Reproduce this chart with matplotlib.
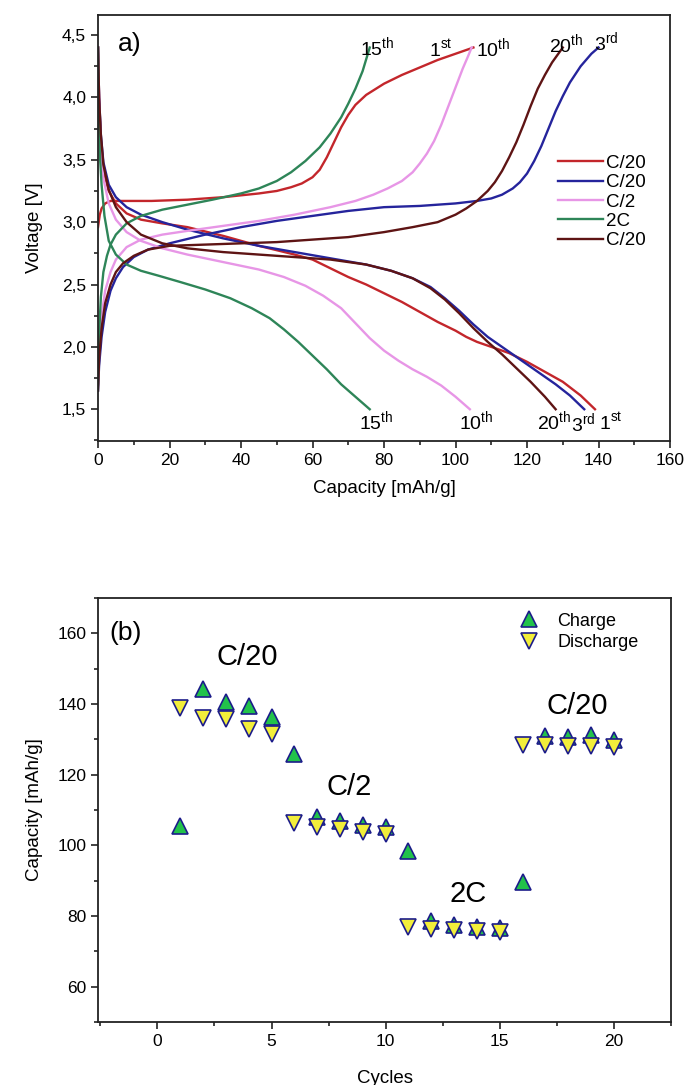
import matplotlib
matplotlib.use("Agg")
import matplotlib.pyplot as plt
import matplotlib.ticker as ticker

plt.rcParams["font.family"] = ["Liberation Sans", "DejaVu Sans"]
plt.rcParams["mathtext.fontset"] = "custom"
plt.rcParams["mathtext.rm"] = "Liberation Sans"

# --- a) charge / discharge profiles, capacity [mAh/g] vs voltage [V] ---
cap_1st_ch = [0, 0.5, 1, 2, 3.5, 8, 15, 25, 35, 45, 50, 54, 57, 60, 62, 64, 66, 68, 70, 72, 75, 80, 85, 90, 95, 100, 105]
v_1st_ch = [2.96, 3.06, 3.11, 3.15, 3.17, 3.17, 3.17, 3.18, 3.20, 3.23, 3.25, 3.28, 3.31, 3.36, 3.42, 3.52, 3.64, 3.76, 3.86, 3.94, 4.02, 4.11, 4.18, 4.24, 4.30, 4.35, 4.40]
cap_1st_dis = [0, 0.3, 0.8, 1.5, 3, 5, 8, 12, 18, 25, 35, 45, 55, 60, 65, 70, 75, 80, 85, 90, 95, 100, 103, 106, 110, 115, 120, 125, 130, 135, 139]
v_1st_dis = [4.40, 4.0, 3.65, 3.42, 3.25, 3.15, 3.07, 3.02, 2.99, 2.96, 2.89, 2.81, 2.74, 2.70, 2.63, 2.56, 2.50, 2.43, 2.36, 2.28, 2.20, 2.13, 2.08, 2.04, 2.0, 1.95, 1.88, 1.80, 1.72, 1.61, 1.50]

cap_3rd_ch = [0, 0.3, 1, 2, 3.5, 5, 7, 10, 14, 20, 30, 40, 50, 60, 70, 80, 90, 100, 106, 110, 113, 116, 118, 120, 122, 124, 126, 128, 130, 132, 135, 138, 140]
v_3rd_ch = [1.65, 1.85, 2.08, 2.28, 2.45, 2.55, 2.64, 2.72, 2.78, 2.83, 2.90, 2.96, 3.01, 3.05, 3.09, 3.12, 3.13, 3.15, 3.17, 3.19, 3.22, 3.27, 3.32, 3.39, 3.49, 3.61, 3.75, 3.89, 4.01, 4.12, 4.25, 4.35, 4.40]
cap_3rd_dis = [0, 0.3, 0.8, 1.5, 3, 5, 8, 12, 18, 25, 35, 45, 55, 65, 75, 82, 88, 93, 97, 101, 105, 109, 113, 118, 123, 128, 132, 136]
v_3rd_dis = [4.40, 4.0, 3.7, 3.48, 3.30, 3.20, 3.12, 3.06, 3.0, 2.94, 2.87, 2.81, 2.76, 2.71, 2.66, 2.61, 2.55, 2.48, 2.39, 2.29, 2.18, 2.08, 2.0, 1.90, 1.80, 1.70, 1.61, 1.50]

cap_10th_ch = [0, 0.3, 1, 2, 3.5, 5, 8, 12, 18, 25, 35, 45, 55, 65, 72, 77, 81, 85, 88, 90, 92, 94, 96, 98, 100, 102, 103.5, 104.5]
v_10th_ch = [1.7, 1.95, 2.25, 2.45, 2.6, 2.7, 2.8, 2.86, 2.9, 2.93, 2.97, 3.01, 3.06, 3.12, 3.17, 3.22, 3.27, 3.33, 3.40, 3.47, 3.55, 3.65, 3.78, 3.93, 4.08, 4.23, 4.33, 4.40]
cap_10th_dis = [0, 0.3, 0.8, 1.5, 3, 5, 8, 12, 18, 25, 35, 45, 52, 58, 63, 68, 72, 76, 80, 84, 88, 92, 96, 100, 104]
v_10th_dis = [4.40, 3.95, 3.6, 3.35, 3.15, 3.02, 2.92, 2.85, 2.79, 2.74, 2.68, 2.62, 2.56, 2.49, 2.41, 2.31, 2.19, 2.07, 1.97, 1.89, 1.82, 1.76, 1.69, 1.60, 1.50]

cap_15th_ch = [0, 0.3, 0.8, 1.5, 2.5, 3.5, 5, 8, 12, 18, 25, 32, 40, 45, 50, 54, 58, 62, 65, 68, 70, 72, 74, 76]
v_15th_ch = [1.7, 2.1, 2.4, 2.6, 2.73, 2.82, 2.9, 2.99, 3.05, 3.10, 3.14, 3.18, 3.23, 3.27, 3.33, 3.40, 3.49, 3.60, 3.71, 3.84, 3.95, 4.07, 4.21, 4.40]
cap_15th_dis = [0, 0.2, 0.5, 1, 1.8, 3, 5, 8, 12, 17, 23, 30, 37, 43, 48, 52, 56, 60, 64, 68, 72, 76]
v_15th_dis = [4.40, 3.95, 3.55, 3.30, 3.05, 2.85, 2.74, 2.66, 2.61, 2.57, 2.52, 2.46, 2.39, 2.31, 2.23, 2.14, 2.04, 1.93, 1.82, 1.70, 1.60, 1.50]

cap_20th_ch = [0, 0.3, 1, 2, 3.5, 5, 7, 10, 14, 20, 30, 40, 50, 60, 70, 80, 88, 95, 100, 103, 106, 109, 111, 113, 115, 117, 119, 121, 123, 125, 127, 129, 130]
v_20th_ch = [1.65, 1.9, 2.15, 2.35, 2.5, 2.6, 2.67, 2.73, 2.78, 2.81, 2.82, 2.83, 2.84, 2.86, 2.88, 2.92, 2.96, 3.0, 3.06, 3.11, 3.17, 3.25, 3.32, 3.41, 3.52, 3.64, 3.78, 3.93, 4.07, 4.18, 4.28, 4.36, 4.40]
cap_20th_dis = [0, 0.3, 0.8, 1.5, 3, 5, 8, 12, 18, 25, 35, 45, 55, 65, 75, 82, 88, 93, 97, 101, 105, 109, 113, 117, 121, 125, 128]
v_20th_dis = [4.40, 4.0, 3.7, 3.46, 3.26, 3.12, 3.0, 2.90, 2.83, 2.79, 2.76, 2.74, 2.72, 2.70, 2.66, 2.61, 2.55, 2.47, 2.38, 2.27, 2.15, 2.04, 1.94, 1.83, 1.72, 1.60, 1.50]

legend_labels_a = ["C/20", "C/20", "C/2", "2C", "C/20"]

# --- b) rate capability ---
cycles = list(range(1, 21))
charge_cap = [105.5, 144.3, 140.5, 139.3, 136.2, 125.8, 108.1, 106.8, 105.6, 105.1,
              98.5, 78.6, 77.5, 77.0, 76.6, 89.5, 130.8, 130.6, 131.1, 129.8]
discharge_cap = [138.8, 136.0, 135.6, 132.8, 131.5, 106.4, 105.2, 104.5, 103.8, 103.2,
                 76.8, 76.3, 75.9, 75.8, 75.6, 128.3, 128.3, 128.0, 128.2, 127.8]

RED = "#c3262b"
BLUE = "#25249c"
PINK = "#e796e6"
GREEN = "#2e8558"
BROWN = "#5e1414"
SPINE = "#222222"


def style_axes(ax):
    for s in ax.spines.values():
        s.set_linewidth(1.3)
        s.set_color(SPINE)
    ax.tick_params(which="both", direction="out", top=False, right=False,
                   color=SPINE, width=1.2, labelsize=12.5)
    ax.tick_params(which="major", length=5)
    ax.tick_params(which="minor", length=3)


fig = plt.figure(figsize=(6.84, 10.85), dpi=100)

# ---------------- panel a ----------------
ax = fig.add_axes([0.1433, 0.5935, 0.8363, 0.3926])
curves = [
    (cap_1st_ch, v_1st_ch, cap_1st_dis, v_1st_dis, RED),
    (cap_3rd_ch, v_3rd_ch, cap_3rd_dis, v_3rd_dis, BLUE),
    (cap_10th_ch, v_10th_ch, cap_10th_dis, v_10th_dis, PINK),
    (cap_15th_ch, v_15th_ch, cap_15th_dis, v_15th_dis, GREEN),
    (cap_20th_ch, v_20th_ch, cap_20th_dis, v_20th_dis, BROWN),
]
handles = []
for (xc, yc, xd, yd, col), lab in zip(curves, legend_labels_a):
    h, = ax.plot(xc, yc, color=col, lw=1.7, label=lab)
    ax.plot(xd, yd, color=col, lw=1.7)
    handles.append(h)

ax.set_xlim(0, 160)
ax.set_ylim(1.245, 4.66)
ax.xaxis.set_major_locator(ticker.MultipleLocator(20))
ax.xaxis.set_minor_locator(ticker.MultipleLocator(10))
ax.yaxis.set_major_locator(ticker.MultipleLocator(0.5))
ax.yaxis.set_minor_locator(ticker.MultipleLocator(0.25))
ax.yaxis.set_major_formatter(ticker.FuncFormatter(lambda v, p: f"{v:.1f}".replace(".", ",")))
style_axes(ax)
ax.set_xlabel("Capacity [mAh/g]", fontsize=13.5, labelpad=9)
ax.set_ylabel("Voltage [V]", fontsize=13.5, labelpad=14)

ax.text(8.8, 4.43, "a)", fontsize=19, ha="center", va="center")

top_labels = [("15", "th", 78, 4.40), ("1", "st", 96, 4.38), ("10", "th", 110.5, 4.39),
              ("20", "th", 131, 4.42), ("3", "rd", 142, 4.44)]
bot_labels = [("15", "th", 77.7, 1.40), ("10", "th", 105.7, 1.40), ("20", "th", 127.6, 1.40),
              ("3", "rd", 135.7, 1.38), ("1", "st", 143.4, 1.39)]
for num, suf, x, y in top_labels + bot_labels:
    ax.text(x, y, num + r"$^{\mathrm{" + suf + "}}$", fontsize=14, ha="center", va="center")

ax.legend(handles=handles, loc="upper left", bbox_to_anchor=(0.804, 0.672),
          frameon=False, fontsize=13.5, handlelength=2.4, handletextpad=0.15,
          labelspacing=0.12, borderpad=0, borderaxespad=0)

# ---------------- panel b ----------------
bx = fig.add_axes([0.1433, 0.0581, 0.8377, 0.3908])
bx.plot(cycles, charge_cap, ls="none", marker="^", ms=11, mfc="#22c24a",
        mec="#1c1c8a", mew=1.2, label="Charge")
bx.plot(cycles, discharge_cap, ls="none", marker="v", ms=11, mfc="#f2ee3a",
        mec="#1c1c8a", mew=1.2, label="Discharge")
bx.set_xlim(-2.6, 22.5)
bx.set_ylim(50, 170)
bx.xaxis.set_major_locator(ticker.MultipleLocator(5))
bx.xaxis.set_minor_locator(ticker.MultipleLocator(2.5))
bx.yaxis.set_major_locator(ticker.MultipleLocator(20))
bx.yaxis.set_minor_locator(ticker.MultipleLocator(10))
style_axes(bx)
bx.set_xlabel("Cycles", fontsize=13.5, labelpad=15)
bx.set_ylabel("Capacity [mAh/g]", fontsize=13.5, labelpad=10)

bx.text(-2.1, 160, "(b)", fontsize=19, ha="left", va="center")
bx.text(3.95, 153.2, "C/20", fontsize=21, ha="center", va="center")
bx.text(8.4, 116.4, "C/2", fontsize=21, ha="center", va="center")
bx.text(13.6, 86.2, "2C", fontsize=21, ha="center", va="center")
bx.text(18.4, 139.5, "C/20", fontsize=21, ha="center", va="center")

bx.legend(loc="upper left", bbox_to_anchor=(0.72, 0.965), frameon=False,
          fontsize=13, handletextpad=0.6, labelspacing=0.25, borderpad=0,
          borderaxespad=0)

fig.savefig("out.png", dpi=100)
